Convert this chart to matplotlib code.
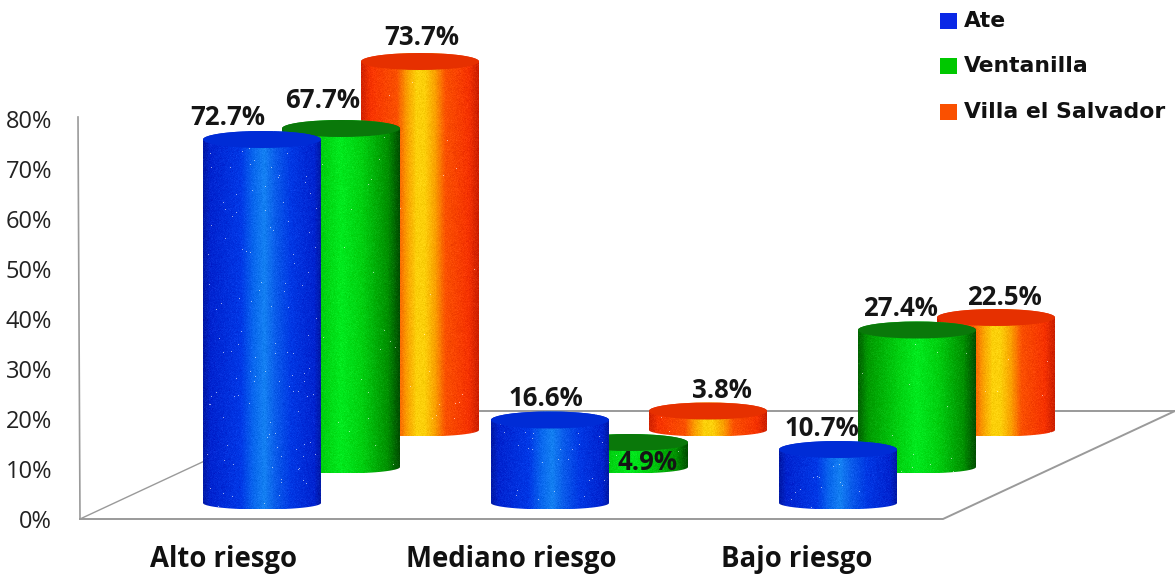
import numpy as np
import matplotlib
matplotlib.use('Agg')
from matplotlib import pyplot as plt
from matplotlib.colors import LinearSegmentedColormap
from matplotlib.patches import Ellipse, PathPatch, Rectangle
from matplotlib.path import Path

categories = ['Alto riesgo', 'Mediano riesgo', 'Bajo riesgo']
districts = ['Ate', 'Ventanilla', 'Villa el Salvador']
ate = [72.7, 16.6, 10.7]
ventanilla = [67.7, 4.9, 27.4]
salvador = [73.7, 3.8, 22.5]
y_ticks = [0, 10, 20, 30, 40, 50, 60, 70, 80]

# label nudges in pixels, one row per district
label_dx = [[-34, -4, -16], [-18, 19, -17], [2, 14, 8]]
label_dy = [[22, 22, 21], [28, -20, 21], [24, 21, 20]]

PX_PER_PCT = 5.0
Y_ZERO = 519.0
RADIUS = 59.0
LID = 8.5 / PX_PER_PCT
FOOT = 6.5 / PX_PER_PCT
GROUP_STEP = 288.0
ROW_STEP = 79.0
FIRST_X = 262.0
# the three rows stand at different depths on the floor
ROW_LIFT = [3.2, 10.4, 17.8]

ramps = [
    [(0.0, '#001aa8'), (0.06, '#0024d0'), (0.32, '#0038e6'), (0.43, '#0a68ee'),
     (0.52, '#1480f2'), (0.62, '#0a5aea'), (0.75, '#0038e4'), (0.95, '#0024d0'),
     (1.0, '#001aa8')],
    [(0.0, '#006400'), (0.08, '#009a00'), (0.34, '#00d010'), (0.5, '#00ea1e'),
     (0.68, '#00d010'), (0.9, '#009000'), (1.0, '#005000')],
    [(0.0, '#d22300'), (0.08, '#f83400'), (0.3, '#fa5000'), (0.39, '#faa000'),
     (0.47, '#fcd00a'), (0.54, '#fcd00a'), (0.63, '#faa000'), (0.72, '#fa5000'),
     (0.92, '#f63200'), (1.0, '#cc2000')],
]
lid_colors = ['#002cd6', '#0a780a', '#e63000']
legend_colors = ['#0a28e6', '#00c800', '#fa5000']
speck_counts = [110, 30, 20]

# surface grain on the painted cylinders
rng = np.random.default_rng(7)


def py(pixel):
    return (Y_ZERO - pixel) / PX_PER_PCT


def cylinder(ax, x, lift, value, row):
    base = lift
    top = lift + value
    t = np.linspace(0, np.pi, 60)
    bottom_x = x - RADIUS * np.cos(t)
    bottom_y = base - FOOT * np.sin(t)
    top_x = x + RADIUS * np.cos(t)
    top_y = top + LID * np.sin(t)
    verts = np.vstack([np.column_stack([bottom_x, bottom_y]),
                       np.column_stack([top_x, top_y]),
                       [[bottom_x[0], bottom_y[0]]]])
    codes = [Path.MOVETO] + [Path.LINETO] * (len(verts) - 2) + [Path.CLOSEPOLY]
    body = PathPatch(Path(verts, codes), fc='none', ec='none')
    ax.add_patch(body)

    cmap = LinearSegmentedColormap.from_list('row%d' % row, ramps[row])
    width = int(2 * RADIUS)
    height = int((value + LID + FOOT) * PX_PER_PCT)
    grad = np.tile(np.linspace(0, 1, width), (height, 1))
    rgb = cmap(grad)[:, :, :3]
    rgb = rgb + rng.normal(0, 0.018, (height, width, 1))
    n_specks = int(speck_counts[row] * value / 70.0) + 4
    sx = rng.integers(4, width - 4, n_specks)
    sy = rng.integers(0, height, n_specks)
    rgb[sy, sx] = rgb[sy, sx] * 0.4 + 0.6
    im = ax.imshow(np.clip(rgb, 0, 1), aspect='auto', interpolation='nearest',
                   extent=[x - RADIUS, x + RADIUS, base - FOOT, top + LID],
                   zorder=3 + row * -0.1)
    im.set_clip_path(body)
    body.set_zorder(im.get_zorder())

    lid = Ellipse((x, top), 2 * RADIUS, 2 * LID, fc=lid_colors[row], ec='none',
                  zorder=im.get_zorder() + 0.01)
    ax.add_patch(lid)


fig = plt.figure(figsize=(11.75, 5.75), dpi=100, facecolor='white')
ax = fig.add_axes([0, 0, 1, 1])
ax.set_axis_off()

# wall and floor of the chart box
grey = '#9a9a9a'
ax.plot([78, 80], [py(117), py(519)], color=grey, lw=1.2, zorder=1)
ax.plot([80, 943, 1175], [py(519), py(519), py(411)], color=grey, lw=1.4, zorder=1)
ax.plot([80, 312], [py(519), py(411)], color=grey, lw=1.0, zorder=1)
ax.plot([312, 1175], [py(411), py(411)], color=grey, lw=1.4, zorder=1)

series = [ate, ventanilla, salvador]
for g in range(len(categories)):
    for row in [2, 1, 0]:
        x = FIRST_X + g * GROUP_STEP + row * ROW_STEP
        cylinder(ax, x, ROW_LIFT[row], series[row][g], row)

for row, values in enumerate(series):
    for g, v in enumerate(values):
        x = FIRST_X + g * GROUP_STEP + row * ROW_STEP
        ax.annotate('%.1f%%' % v, xy=(x, ROW_LIFT[row] + v),
                    xytext=(label_dx[row][g], label_dy[row][g]),
                    textcoords='offset pixels', ha='center', va='center',
                    family='Open Sans', weight='bold', fontsize=18.5,
                    color='#151515', zorder=10)

for tick in y_ticks:
    ax.text(52, tick - 0.6, '%d%%' % tick, ha='right', va='center',
            family='Open Sans', fontsize=17, color='#222222')

cat_x = [223, 511, 797]
for xc, name in zip(cat_x, categories):
    ax.text(xc, py(560), name, ha='center', va='center', family='Open Sans',
            weight='bold', fontsize=19.8, color='#111111')

legend_y = [21, 66, 112]
for name, color, ly in zip(districts, legend_colors, legend_y):
    ax.add_patch(Rectangle((940, py(ly + 8)), 17, 16 / PX_PER_PCT, fc=color,
                           ec='none', zorder=5))
    ax.text(964, py(ly), name, ha='left', va='center', family='DejaVu Sans',
            weight='bold', fontsize=15.75, color='#111111')

ax.set_xlim(0, 1175)
ax.set_ylim(py(575), py(0))
fig.savefig('out.png', dpi=100, facecolor='white')
